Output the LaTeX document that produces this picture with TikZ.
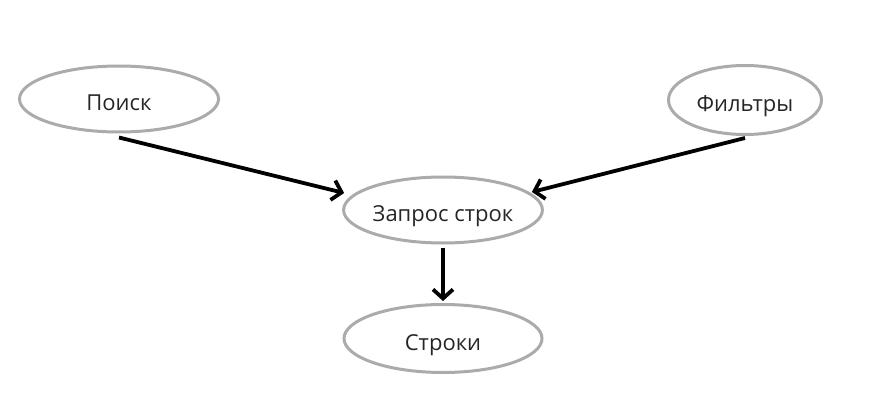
\documentclass[tikz,border=0pt]{standalone}
\usepackage{fontspec}
\setmainfont{Open Sans}
\usetikzlibrary{shapes.geometric,arrows.meta}
\tikzset{
  oval/.style={ellipse, draw=black!33, line width=3pt, inner sep=0pt, text height=23pt, text depth=0pt, font=\fontsize{22}{24}\selectfont, text=black!85},
  arr/.style={line width=3.8pt, -{Straight Barb[length=9pt,width=20pt]}}
}
\begin{document}
\begin{tikzpicture}[x=1pt,y=-1pt]
\useasboundingbox (0,0) rectangle (872,404);
\node[oval, minimum width=199pt, minimum height=66pt] (poisk) at (119,99) {Поиск};
\node[oval, minimum width=153pt, minimum height=69pt] (filtry) at (745,100) {Фильтры};
\node[oval, minimum width=198pt, minimum height=66pt] (zapros) at (443,210) {Запрос строк};
\node[oval, minimum width=198pt, minimum height=68pt] (stroki) at (443,338.5) {Строки};
\draw[arr] ([yshift=-4pt]poisk.south) -- ([xshift=2pt,yshift=17pt]zapros.west);
\draw[arr] ([yshift=-2pt]filtry.south) -- ([xshift=-12pt,yshift=18pt]zapros.east);
\draw[arr] ([yshift=-3pt]zapros.south) -- ([yshift=2pt]stroki.north);
\end{tikzpicture}
\end{document}
